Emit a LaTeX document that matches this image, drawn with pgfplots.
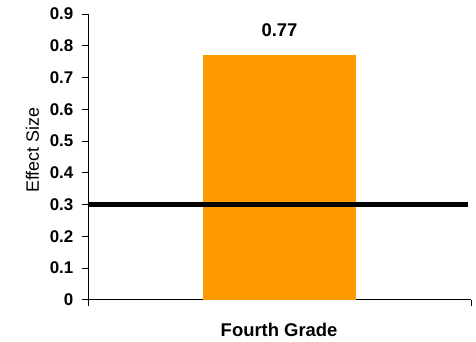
\documentclass[border=0pt]{standalone}
\usepackage{fontspec}
\setmainfont{Liberation Sans}
\usepackage{pgfplots}
\pgfplotsset{compat=1.18}
\definecolor{barorange}{RGB}{255,153,0}
\begin{document}
\begin{tikzpicture}
\begin{axis}[
  at={(0,0)}, anchor=origin,
  scale only axis,
  width=383bp, height=285.7bp,
  xmin=0, xmax=1, ymin=0, ymax=0.9,
  axis x line=bottom, axis y line=left,
  axis line style={-, line width=0.9bp, black},
  xtick={0,1}, xticklabels={,},
  ytick={0,0.1,...,0.9},
  yticklabels={0,0.1,0.2,0.3,0.4,0.5,0.6,0.7,0.8,0.9},
  tick align=outside,
  major tick length=6bp,
  tick style={line width=0.9bp, black},
  yticklabel style={font=\bfseries\fontsize{17}{19}\selectfont, anchor=east, inner sep=0pt, xshift=-8.5bp},
  /pgf/number format/assume math mode=true,
  xlabel={\bfseries Fourth Grade},
  xlabel style={font=\fontsize{18.5}{20}\selectfont, at={(axis description cs:0.499,0)}, anchor=center, yshift=-30bp},
  ylabel={Effect Size},
  ylabel style={font=\fontsize{18}{20}\selectfont, at={(axis description cs:-0.145,0.524)}, anchor=center},
  clip=false,
]
\addplot[ybar, bar width=0.4, fill=barorange, draw=none,
  nodes near coords={\bfseries 0.77},
  every node near coord/.append style={font=\fontsize{18.5}{20}\selectfont, anchor=south, inner sep=0pt, yshift=18bp}]
  coordinates {(0.5,0.77)};
\addplot[black, line width=5bp, no marks] coordinates {(0,0.3) (0.992,0.3)};
\end{axis}
\pgfresetboundingbox
\path (-88bp,-42.3bp) rectangle (388bp,299.7bp);
\end{tikzpicture}
\end{document}
